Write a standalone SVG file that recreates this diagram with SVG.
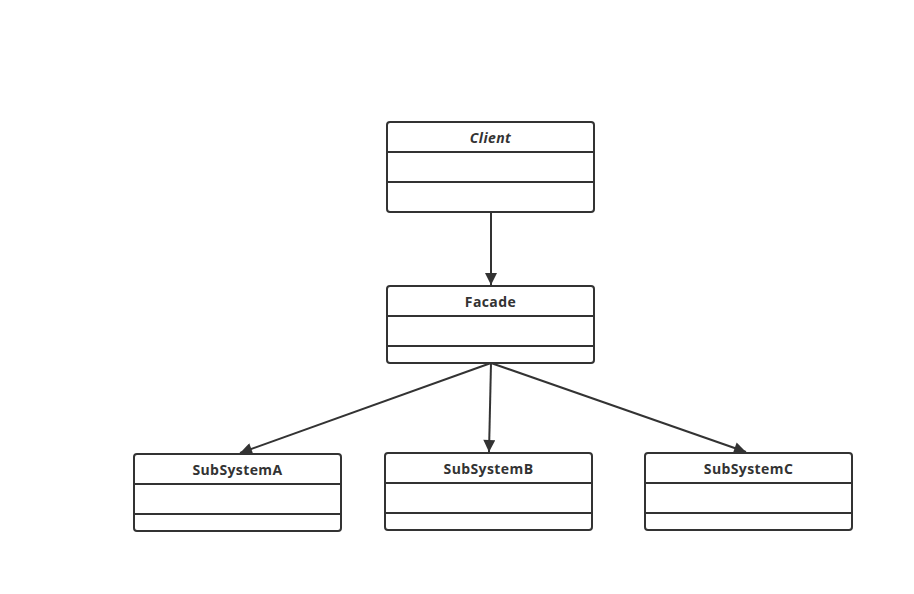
<svg xmlns="http://www.w3.org/2000/svg" width="914" height="594" viewBox="0 0 914 594">
<defs>
<style>
.box{fill:#fff;stroke:#333;stroke-width:2}
.div{stroke:#333;stroke-width:2}
.t{font-family:"Open Sans","Liberation Sans",sans-serif;font-size:14px;font-weight:bold;fill:#333;text-anchor:middle;letter-spacing:0.4px}
.conn{stroke:#333;stroke-width:2;fill:none}
</style>
<marker id="arrB" viewBox="0 0 10 10" refX="10" refY="5" markerWidth="14" markerHeight="12" markerUnits="userSpaceOnUse" orient="auto">
<path d="M0,0 L10,5 L0,10 z" fill="#333"/>
</marker>
</defs>
<rect width="914" height="594" fill="#fff"/>
<g id="connectors">
<line class="conn" x1="491" y1="212" x2="491" y2="285" marker-end="url(#arrB)"/>
<line class="conn" x1="491" y1="363" x2="240" y2="453" marker-end="url(#arrB)"/>
<line class="conn" x1="491" y1="363" x2="489" y2="452" marker-end="url(#arrB)"/>
<line class="conn" x1="491" y1="363" x2="746" y2="452" marker-end="url(#arrB)"/>
</g>
<g id="client">
<rect class="box" x="387" y="122" width="207" height="90" rx="3"/>
<line class="div" x1="387" y1="152" x2="594" y2="152"/>
<line class="div" x1="387" y1="182" x2="594" y2="182"/>
<text class="t" x="490.5" y="142.5" font-style="italic">Client</text>
</g>
<g id="facade">
<rect class="box" x="387" y="286" width="207" height="77" rx="3"/>
<line class="div" x1="387" y1="316" x2="594" y2="316"/>
<line class="div" x1="387" y1="346" x2="594" y2="346"/>
<text class="t" x="490.5" y="306.5">Facade</text>
</g>
<g id="subsystemA">
<rect class="box" x="134" y="454" width="207" height="77" rx="3"/>
<line class="div" x1="134" y1="484" x2="341" y2="484"/>
<line class="div" x1="134" y1="514" x2="341" y2="514"/>
<text class="t" x="237.5" y="474.5">SubSystemA</text>
</g>
<g id="subsystemB">
<rect class="box" x="385" y="453" width="207" height="77" rx="3"/>
<line class="div" x1="385" y1="483" x2="592" y2="483"/>
<line class="div" x1="385" y1="513" x2="592" y2="513"/>
<text class="t" x="488.5" y="473.5">SubSystemB</text>
</g>
<g id="subsystemC">
<rect class="box" x="645" y="453" width="207" height="77" rx="3"/>
<line class="div" x1="645" y1="483" x2="852" y2="483"/>
<line class="div" x1="645" y1="513" x2="852" y2="513"/>
<text class="t" x="748.5" y="473.5">SubSystemC</text>
</g>
</svg>
